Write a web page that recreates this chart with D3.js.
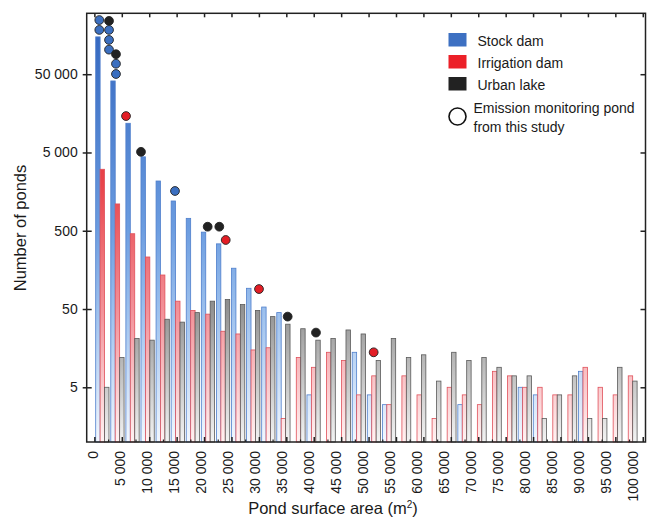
<!DOCTYPE html>
<html><head><meta charset="utf-8">
<script src="https://cdn.jsdelivr.net/npm/d3@7"></script>
<style>body{margin:0;background:#fff} text{font-family:"Liberation Sans",Arial,sans-serif;fill:#1a1a1a}</style>
</head><body><svg id="c" width="649" height="520"></svg>
<script>
// ---- data ----
const binIndex = d3.range(36);
const stockDam      = [150000,41000,11800,4400,2160,1200,720,480,340,166,92,53,45,0,4,0,0,14,4,3,0,0,0,0,3,0,0,0,5,4,0,0,8,0,0,0];
const irrigationDam = [3050,1100,458,231,136,63,48,43,26,24,15,16,2,12,9,14,11,4,7,3,7,4,2,5,4,3,8,7,5,5,4,4,9,5,4,7];
const urbanLake     = [5,12,21,20,37,34,45,63,66,57,48,40,32,28,20,21,27,24,11,21,12,13,6,14,11,12,9,7,7,2,4,7,2,2,9,6];
const seriesNames = ["Stock dam","Irrigation dam","Urban lake"];
const yTickValues = [5,50,500,5000,50000];
const xTickValues = d3.range(0,100001,5000);
const xMinorValues = d3.range(2500,100001,5000);
const monitorArea  = [900,900,2670,2670,2670,2670,3940,3940,3940,5770,8500,14700,20660,22780,23950,30020,35250,40410,50930];
const monitorCount = [246000,184000,240000,184000,137000,103000,90000,68000,50300,14600,5100,1610,563,563,381,90,40,25,14];
const monitorType  = ["s","s","u","s","s","s","u","s","s","i","u","s","u","u","i","i","u","u","i"];

const svg = d3.select("#c");
const L=86.7, R=645.5, T=13.3, B=442;
const y = d3.scaleLog().domain([1,300000]).range([B,T]);
const x = d3.scaleLinear().domain([-1400,100500]).range([L,R]);
const xLab = d3.scaleLinear().domain([0,100000]).range([93,633]);
const band = d3.scaleBand().domain(binIndex).range([95.7,637.1]).paddingInner(0.12).paddingOuter(0);
const sub = d3.scaleBand().domain(["s","i","u"]).range([0,band.bandwidth()]);
const fmt = d3.formatLocale({decimal:".",thousands:" ",grouping:[3],currency:["",""]}).format(",");

// gradients
const defs = svg.append("defs");
const grads = {
  s:[[0,"#2f63bd"],[0.5,"#6b9ce0"],[0.72,"#a3c5ef"],[1,"#f3f8fe"]],
  i:[[0,"#de1820"],[0.4,"#e9454b"],[0.7,"#f3939a"],[1,"#fff3f3"]],
  u:[[0,"#3a3a3a"],[0.68,"#8f8f8f"],[1,"#f3f3f3"]]
};
Object.entries(grads).forEach(([k,stops])=>{
  const g=defs.append("linearGradient").attr("id","g"+k).attr("gradientUnits","userSpaceOnUse")
    .attr("x1",0).attr("x2",0).attr("y1",T).attr("y2",B);
  stops.forEach(s=>g.append("stop").attr("offset",s[0]).attr("stop-color",s[1]));
});
const strokes={s:"#4f7fcc",i:"#e0505a",u:"#5a5a5a"};

const series=[{k:"s",v:stockDam},{k:"i",v:irrigationDam},{k:"u",v:urbanLake}];
series.forEach(se=>{
  svg.append("g").selectAll("rect").data(binIndex.filter(i=>se.v[i]>0)).join("rect")
    .attr("x",i=>band(i)+sub(se.k)).attr("width",sub.bandwidth())
    .attr("y",i=>y(se.v[i])).attr("height",i=>B-y(se.v[i]))
    .attr("fill","url(#g"+se.k+")").attr("stroke",strokes[se.k]).attr("stroke-width",0.8);
});

// monitoring circles
const dotFill={s:"#3b6fc0",i:"#e31e26",u:"#222"};
svg.append("g").selectAll("circle").data(d3.range(monitorArea.length)).join("circle")
  .attr("cx",i=>x(monitorArea[i])).attr("cy",i=>y(monitorCount[i])).attr("r",4.4)
  .attr("fill",i=>dotFill[monitorType[i]]).attr("stroke","#222").attr("stroke-width",0.9);

// axes frame
const ax = svg.append("g").attr("stroke","#222").attr("stroke-width",1.5).attr("fill","none");
ax.append("rect").attr("x",L).attr("y",T).attr("width",R-L).attr("height",B-T);

// left axis
const gl = svg.append("g").attr("transform",`translate(${L},0)`)
  .call(d3.axisLeft(y).tickValues(yTickValues).tickFormat(fmt).tickSize(4).tickPadding(5));
gl.select(".domain").remove();
gl.selectAll(".tick line").attr("x1",-4).attr("x2",5).attr("stroke","#222").attr("stroke-width",1.5);
gl.selectAll("text").attr("font-size",14).attr("fill","#1a1a1a");
// right axis ticks
const gr = svg.append("g").attr("transform",`translate(${R},0)`)
  .call(d3.axisRight(y).tickValues(yTickValues).tickFormat("").tickSize(-5));
gr.select(".domain").remove();
gr.selectAll(".tick line").attr("stroke","#222").attr("stroke-width",1.5);
// bottom ticks
const gb = svg.append("g").attr("transform",`translate(0,${B})`)
  .call(d3.axisBottom(x).tickValues(xTickValues).tickFormat("").tickSize(-5));
gb.select(".domain").remove();
gb.selectAll(".tick line").attr("stroke","#222").attr("stroke-width",1.5);
const gbm = svg.append("g").attr("transform",`translate(0,${B})`)
  .call(d3.axisBottom(x).tickValues(xMinorValues).tickFormat("").tickSize(-2.5));
gbm.select(".domain").remove();
gbm.selectAll(".tick line").attr("stroke","#222").attr("stroke-width",1.2);
// top ticks
const gt = svg.append("g").attr("transform",`translate(0,${T})`)
  .call(d3.axisTop(x).tickValues(xTickValues).tickFormat("").tickSize(-4));
gt.select(".domain").remove();
gt.selectAll(".tick line").attr("stroke","#222").attr("stroke-width",1.5);
// bottom labels
const gbl = svg.append("g").attr("transform",`translate(0,${B})`)
  .call(d3.axisBottom(xLab).tickValues(xTickValues).tickFormat(fmt).tickSize(0));
gbl.select(".domain").remove();
gbl.selectAll("text").attr("font-size",14).attr("fill","#1a1a1a")
  .attr("transform","rotate(-90)").attr("x",-9).attr("y",0).attr("dy","0.35em").attr("text-anchor","end");

// titles
svg.append("text").attr("transform","translate(26,228) rotate(-90)").attr("text-anchor","middle")
  .attr("font-size",16.5).text("Number of ponds");
const xt = svg.append("text").attr("x",333).attr("y",514).attr("text-anchor","middle").attr("font-size",16.5);
xt.append("tspan").text("Pond surface area (m");
xt.append("tspan").attr("font-size",10).attr("dy",-6).text("2");
xt.append("tspan").attr("dy",6).text(")");

// legend
const legColors=["#3d70c2","#ec2028","#222"];
const lg = svg.append("g");
seriesNames.forEach((n,i)=>{
  lg.append("rect").attr("x",448.5).attr("y",33+i*22).attr("width",18).attr("height",13.5).attr("fill",legColors[i]);
  lg.append("text").attr("x",477.5).attr("y",45.5+i*22).attr("font-size",14).text(n);
});
lg.append("circle").attr("cx",457.5).attr("cy",116.5).attr("r",8.5).attr("fill","#fff").attr("stroke","#111").attr("stroke-width",1.6);
lg.append("text").attr("x",473.5).attr("y",113).attr("font-size",14).text("Emission monitoring pond");
lg.append("text").attr("x",473.5).attr("y",131.5).attr("font-size",14).text("from this study");
</script></body></html>
